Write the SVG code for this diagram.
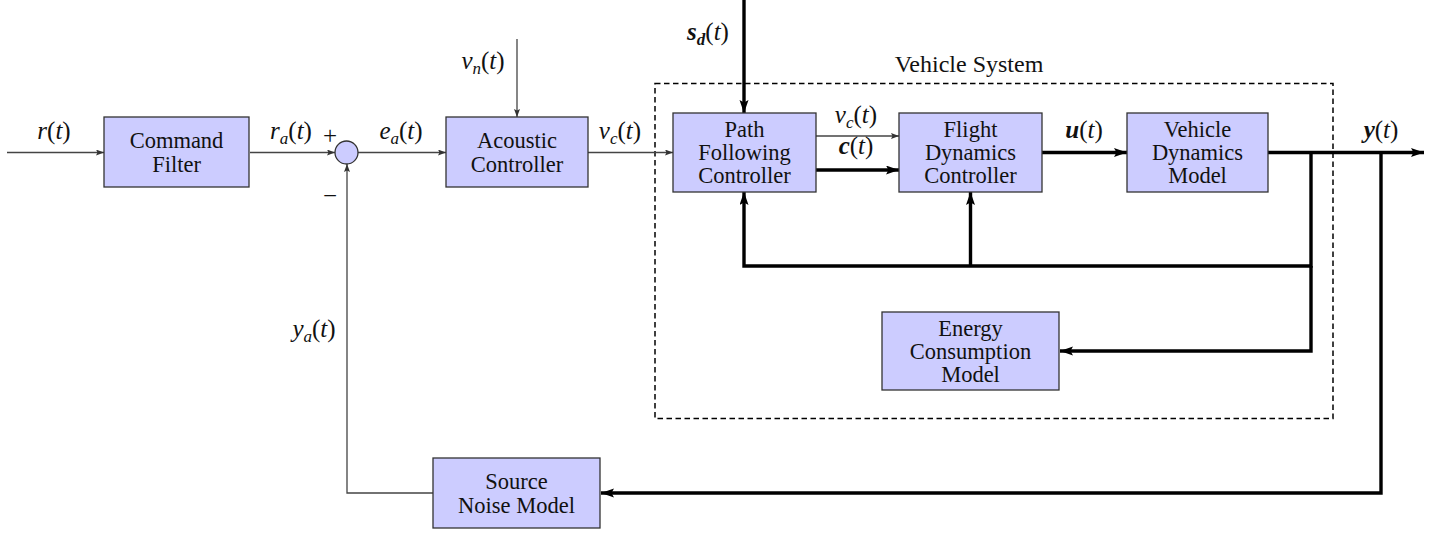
<svg xmlns="http://www.w3.org/2000/svg" width="1444" height="533" viewBox="0 0 1444 533">
<style>
  .box { fill: #ccccff; stroke: #333; stroke-width: 1.3; }
  .sum { fill: #ccccff; stroke: #333; stroke-width: 1.3; }
  .t { font-family: "Liberation Serif", "Times New Roman", serif; font-size: 22.5px; fill: #111; text-anchor: middle; }
  .m { font-family: "Liberation Serif", "Times New Roman", serif; font-size: 25px; fill: #111; text-anchor: middle; }
  .lbl { font-family: "Liberation Serif", "Times New Roman", serif; font-size: 24px; fill: #111; text-anchor: middle; }
  .i { font-style: italic; }
  .b { font-style: italic; font-weight: bold; }
  .s { font-size: 17px; }
  .thin { fill: none; stroke: #444; stroke-width: 1.3; }
  .thick { fill: none; stroke: #000; stroke-width: 3.4; }
  .dash { fill: none; stroke: #000; stroke-width: 1.5; stroke-dasharray: 5.5 3.5; }
</style>
<defs>
  <marker id="ah" markerUnits="userSpaceOnUse" markerWidth="9" markerHeight="7" refX="8" refY="3" orient="auto">
    <path d="M0,0 L8,3 L0,6 L1.5,3 z" fill="#333"/>
  </marker>
  <marker id="ahT" markerUnits="userSpaceOnUse" markerWidth="15" markerHeight="10" refX="13" refY="4.5" orient="auto">
    <path d="M0,0 L13,4.5 L0,9 L2.5,4.5 z" fill="#000"/>
  </marker>
</defs>

<!-- Vehicle System boundary -->
<g id="vehicle-system">
  <rect class="dash" x="655" y="83.5" width="678" height="335"/>
  <text class="lbl" x="969" y="72">Vehicle System</text>
</g>

<!-- Connectors -->
<g id="connectors">
  <path class="thin" d="M7,152.5 H104" marker-end="url(#ah)"/>
  <path class="thin" d="M250,152.5 H335" marker-end="url(#ah)"/>
  <path class="thin" d="M358,152.5 H446" marker-end="url(#ah)"/>
  <path class="thin" d="M517,39 V117" marker-end="url(#ah)"/>
  <path class="thin" d="M588,152.5 H673" marker-end="url(#ah)"/>
  <path class="thick" d="M744,0 V113" marker-end="url(#ahT)"/>
  <path class="thin" d="M816,136 H899" marker-end="url(#ah)"/>
  <path class="thick" d="M816,170 H899" marker-end="url(#ahT)"/>
  <path class="thick" d="M1042,152.5 H1127" marker-end="url(#ahT)"/>
  <path class="thick" d="M1268,152.5 H1424" marker-end="url(#ahT)"/>
  <path class="thick" d="M1311,152.5 V266 H744 V192" marker-end="url(#ahT)"/>
  <path class="thick" d="M970.5,266 V192" marker-end="url(#ahT)"/>
  <path class="thick" d="M1311,266 V351 H1060" marker-end="url(#ahT)"/>
  <path class="thick" d="M1381,152.5 V493 H601" marker-end="url(#ahT)"/>
  <path class="thin" d="M433,493 H347 V164" marker-end="url(#ah)"/>
</g>

<!-- Edge labels -->
<g id="labels">
  <text class="m" x="54" y="139"><tspan class="i">r</tspan>(<tspan class="i">t</tspan>)</text>
  <text class="m" x="291" y="139"><tspan class="i">r</tspan><tspan class="i s" dy="5">a</tspan><tspan dy="-5">(</tspan><tspan class="i">t</tspan>)</text>
  <text class="m" x="330" y="144">+</text>
  <text class="m" x="330" y="204">−</text>
  <text class="m" x="401" y="139"><tspan class="i">e</tspan><tspan class="i s" dy="5">a</tspan><tspan dy="-5">(</tspan><tspan class="i">t</tspan>)</text>
  <text class="m" x="483" y="69"><tspan class="i">v</tspan><tspan class="i s" dy="5">n</tspan><tspan dy="-5">(</tspan><tspan class="i">t</tspan>)</text>
  <text class="m" x="620" y="139"><tspan class="i">v</tspan><tspan class="i s" dy="5">c</tspan><tspan dy="-5">(</tspan><tspan class="i">t</tspan>)</text>
  <text class="m" x="708" y="40"><tspan class="b">s</tspan><tspan class="b s" dy="5">d</tspan><tspan dy="-5">(</tspan><tspan class="i">t</tspan>)</text>
  <text class="m" x="856" y="123"><tspan class="i">v</tspan><tspan class="i s" dy="5">c</tspan><tspan dy="-5">(</tspan><tspan class="i">t</tspan>)</text>
  <text class="m" x="856" y="154"><tspan class="b">c</tspan>(<tspan class="i">t</tspan>)</text>
  <text class="m" x="1084" y="138"><tspan class="b">u</tspan>(<tspan class="i">t</tspan>)</text>
  <text class="m" x="1381" y="138"><tspan class="b">y</tspan>(<tspan class="i">t</tspan>)</text>
  <text class="m" x="314" y="337"><tspan class="i">y</tspan><tspan class="i s" dy="5">a</tspan><tspan dy="-5">(</tspan><tspan class="i">t</tspan>)</text>
</g>

<!-- Nodes -->
<g id="command-filter">
  <rect class="box" x="104" y="117" width="145" height="70"/>
  <text class="t" x="176.5" y="147.5">Command</text>
  <text class="t" x="176.5" y="171.5">Filter</text>
</g>
<g id="sum">
  <circle class="sum" cx="346.5" cy="152.5" r="11.5"/>
</g>
<g id="acoustic-controller">
  <rect class="box" x="446" y="117" width="142" height="70"/>
  <text class="t" x="517" y="147.5">Acoustic</text>
  <text class="t" x="517" y="171.5">Controller</text>
</g>
<g id="path-following-controller">
  <rect class="box" x="673" y="113" width="143" height="79"/>
  <text class="t" x="744.5" y="137">Path</text>
  <text class="t" x="744.5" y="160">Following</text>
  <text class="t" x="744.5" y="183">Controller</text>
</g>
<g id="flight-dynamics-controller">
  <rect class="box" x="899" y="113" width="143" height="79"/>
  <text class="t" x="970.5" y="137">Flight</text>
  <text class="t" x="970.5" y="160">Dynamics</text>
  <text class="t" x="970.5" y="183">Controller</text>
</g>
<g id="vehicle-dynamics-model">
  <rect class="box" x="1127" y="113" width="141" height="79"/>
  <text class="t" x="1197.5" y="137">Vehicle</text>
  <text class="t" x="1197.5" y="160">Dynamics</text>
  <text class="t" x="1197.5" y="183">Model</text>
</g>
<g id="energy-consumption-model">
  <rect class="box" x="882" y="312" width="177" height="78"/>
  <text class="t" x="970.5" y="335.5">Energy</text>
  <text class="t" x="970.5" y="358.5">Consumption</text>
  <text class="t" x="970.5" y="381.5">Model</text>
</g>
<g id="source-noise-model">
  <rect class="box" x="433" y="458" width="167" height="70"/>
  <text class="t" x="516.5" y="488.5">Source</text>
  <text class="t" x="516.5" y="512.5">Noise Model</text>
</g>
</svg>
